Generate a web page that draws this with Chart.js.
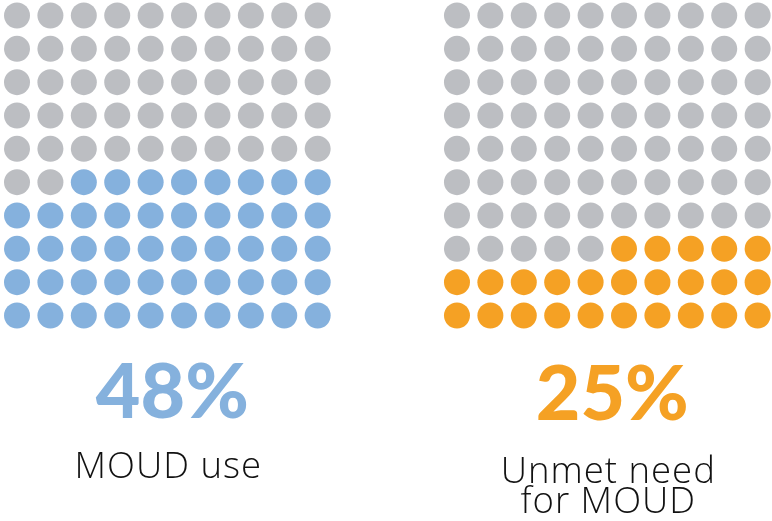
<!DOCTYPE html>
<html>
<head>
<meta charset="utf-8">
<title>MOUD waffle</title>
<script src="https://cdn.jsdelivr.net/npm/chart.js@4"></script>
<style>
  html, body { margin: 0; padding: 0; background: #ffffff; }
  #wrap { position: relative; width: 772px; height: 521px; }
</style>
</head>
<body>
<div id="wrap"><canvas id="waffle" width="772" height="521"></canvas></div>
<script>
// one 10x10 grid per group, filled from the bottom row
var groups = ["MOUD use", "Unmet need\nfor MOUD"];
var percents = [48, 25];
var fillColors = ["#85b1dd", "#f5a124"];
var emptyColor = "#bcbec2";

var cols = 10;
var rows = 10;
var gridOffsets = [0, 13.17];   // x offset of each grid, in dot columns

function cells(g, filled) {
    var pts = [];
    for (var k = 0; k < cols * rows; k++) {
        var isFilled = k < percents[g];
        if (isFilled !== filled) continue;
        pts.push({ x: gridOffsets[g] + (cols - 1 - (k % cols)), y: Math.floor(k / cols) });
    }
    return pts;
}

var datasets = [];
groups.forEach(function (name, g) {
    datasets.push({ label: name + " (rest)", data: cells(g, false), backgroundColor: emptyColor });
    datasets.push({ label: name, data: cells(g, true), backgroundColor: fillColors[g] });
});

// big percentage + caption under each grid
var labelPlugin = {
    id: "groupLabels",
    afterDraw: function (chart) {
        var ctx = chart.ctx;
        var xs = chart.scales.x;
        var valueBase = [418, 420];
        var nameBase = [478, 483];
        ctx.save();
        ctx.textAlign = "center";
        ctx.textBaseline = "alphabetic";
        groups.forEach(function (name, g) {
            var cx = xs.getPixelForValue(gridOffsets[g] + (cols - 1) / 2);
            ctx.fillStyle = fillColors[g];
            ctx.letterSpacing = "0px";
            ctx.font = "900 77px Lato, 'Open Sans', sans-serif";
            ctx.fillText(percents[g] + "%", cx + 5, valueBase[g]);
            ctx.fillStyle = "#111111";
            ctx.letterSpacing = "1px";
            ctx.font = "300 36.5px 'Open Sans', Lato, sans-serif";
            name.split("\n").forEach(function (line, i) {
                ctx.fillText(line, cx + 1, nameBase[g] + i * 30);
            });
        });
        ctx.restore();
    }
};

new Chart("waffle", {
    type: "scatter",
    data: { datasets: datasets },
    options: {
        responsive: false,
        animation: false,
        layout: { padding: 0, autoPadding: false },
        elements: {
            point: { radius: 13, hoverRadius: 13, borderWidth: 0 }
        },
        scales: {
            x: { type: "linear", display: false, min: -0.509, max: 22.6 },
            y: { type: "linear", display: false, min: -6.165, max: 9.465 }
        },
        plugins: {
            legend: { display: false },
            tooltip: { enabled: false }
        }
    },
    plugins: [labelPlugin]
});
</script>
</body>
</html>
